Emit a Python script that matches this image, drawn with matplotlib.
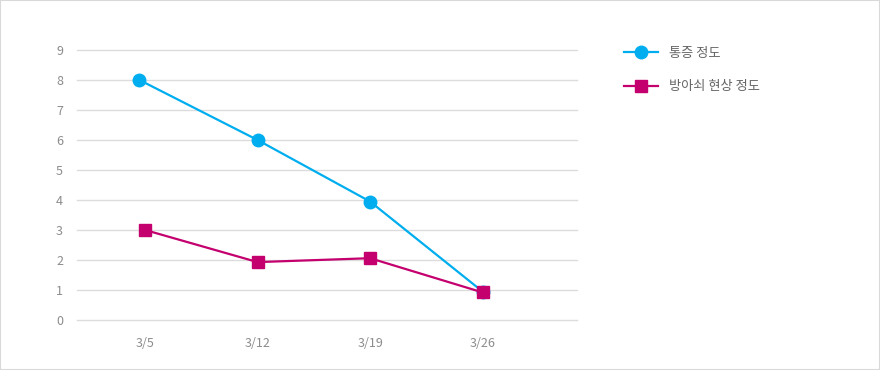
import matplotlib.pyplot as plt
from matplotlib.patches import Rectangle

plt.rcParams['font.family'] = ['Noto Sans CJK KR', 'DejaVu Sans']

# 데이터
dates = ['3/5', '3/12', '3/19', '3/26']
pain_x = [-0.05, 1, 2, 3]
pain = [8, 6, 3.95, 0.95]
stiff_x = [0, 1, 2, 3]
stiff = [3, 1.93, 2.06, 0.92]

blue = '#00aeef'
magenta = '#c4006e'
grey_txt = '#8c8c8c'

fig = plt.figure(figsize=(8.8, 3.7), dpi=100)
ax = fig.add_axes([77 / 880, 1 - 320 / 370, 500 / 880, 270 / 370])

ax.plot(pain_x, pain, color=blue, lw=1.6, marker='o', ms=9, label='통증 정도')
ax.plot(stiff_x, stiff, color=magenta, lw=1.6, marker='s', ms=8.5, label='방아쇠 현상 정도')

ax.set_ylim(0, 9)
ax.set_xlim(-0.605, 3.84)
ax.set_yticks(range(10))
ax.set_xticks(range(len(dates)))
ax.set_xticklabels(dates)
ax.grid(axis='y', color='#dcdcdc', lw=1)
ax.set_axisbelow(True)
for g in ax.get_ygridlines():
    g.set_clip_on(False)
for s in ax.spines.values():
    s.set_visible(False)
ax.tick_params(length=0, colors=grey_txt, labelsize=9)
ax.tick_params(axis='y', pad=10)
ax.tick_params(axis='x', pad=12)
for ln in ax.lines:
    ln.set_clip_on(False)

fig.legend(loc='upper left', bbox_to_anchor=(612 / 880, 1 - 35 / 370), frameon=False,
           fontsize=9.5, labelcolor='#666666', handlelength=2.6, labelspacing=1.55,
           handletextpad=0.8)

fig.patches.append(Rectangle((0, 0), 1, 1, transform=fig.transFigure, fill=False,
                             edgecolor='#d9d9d9', lw=1.5))

plt.savefig('out.png', dpi=100)
